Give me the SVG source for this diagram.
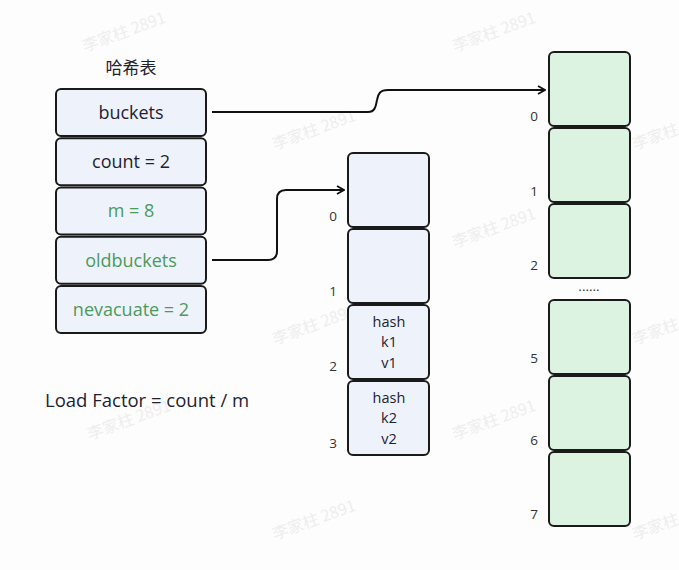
<svg xmlns="http://www.w3.org/2000/svg" width="679" height="570" viewBox="0 0 679 570">
<defs>
<style>
.wm{font-family:"Noto Sans CJK SC","Noto Sans",sans-serif;font-size:16px;fill:#eeeeee;}
.field{fill:#eef2fb;stroke:#1a1a1a;stroke-width:2;}
.old{fill:#eef2fb;stroke:#1a1a1a;stroke-width:2;}
.new{fill:#dcf3e2;stroke:#1a1a1a;stroke-width:2;}
.t{font-family:"Open Sans","Noto Sans",sans-serif;font-size:18px;fill:#1f2330;text-anchor:middle;}
.g{fill:#4c9a5c;}
.s{font-family:"Open Sans","Noto Sans",sans-serif;font-size:14.5px;fill:#1f2330;text-anchor:middle;}
.idx{font-family:"Open Sans","Noto Sans",sans-serif;font-size:13.5px;fill:#333;text-anchor:middle;}
.conn{fill:none;stroke:#111;stroke-width:2;}
</style>
<marker id="arr" viewBox="0 0 10 10" refX="9" refY="5" markerWidth="10" markerHeight="10" markerUnits="userSpaceOnUse" orient="auto">
<path d="M2,1 L9,5 L2,9" fill="none" stroke="#111" stroke-width="1.8"/>
</marker>
</defs>
<rect width="679" height="570" fill="#fdfdfd"/>
<g id="watermarks">
<text class="wm" transform="translate(85,52) rotate(-20)">李家柱 2891</text>
<text class="wm" transform="translate(455,52) rotate(-20)">李家柱 2891</text>
<text class="wm" transform="translate(275,150) rotate(-20)">李家柱 2891</text>
<text class="wm" transform="translate(635,150) rotate(-20)">李家柱 2891</text>
<text class="wm" transform="translate(90,248) rotate(-20)">李家柱 2891</text>
<text class="wm" transform="translate(455,248) rotate(-20)">李家柱 2891</text>
<text class="wm" transform="translate(275,345) rotate(-20)">李家柱 2891</text>
<text class="wm" transform="translate(635,345) rotate(-20)">李家柱 2891</text>
<text class="wm" transform="translate(90,440) rotate(-20)">李家柱 2891</text>
<text class="wm" transform="translate(455,440) rotate(-20)">李家柱 2891</text>
<text class="wm" transform="translate(275,540) rotate(-20)">李家柱 2891</text>
<text class="wm" transform="translate(635,540) rotate(-20)">李家柱 2891</text>
</g>
<g id="title"><text x="131" y="74" style="font-family:'Noto Sans CJK SC',sans-serif;font-size:17px;fill:#1f2330;text-anchor:middle">哈希表</text></g>
<g id="hmap">
<g id="f-buckets"><rect class="field" x="56" y="89" width="150" height="47" rx="5"/><text class="t" x="131" y="119">buckets</text></g>
<g id="f-count"><rect class="field" x="56" y="138.25" width="150" height="47" rx="5"/><text class="t" x="131" y="168">count = 2</text></g>
<g id="f-m"><rect class="field" x="56" y="187.5" width="150" height="47" rx="5"/><text class="t g" x="131" y="217">m = 8</text></g>
<g id="f-oldbuckets"><rect class="field" x="56" y="236.75" width="150" height="47" rx="5"/><text class="t g" x="131" y="267">oldbuckets</text></g>
<g id="f-nevacuate"><rect class="field" x="56" y="286" width="150" height="47" rx="5"/><text class="t g" x="131" y="316">nevacuate = 2</text></g>
</g>
<g id="loadfactor"><text x="45" y="407" style="font-family:'Open Sans','Noto Sans',sans-serif;font-size:18.5px;fill:#1f2330">Load Factor = count / m</text></g>
<g id="oldarray">
<g id="old0"><rect class="old" x="348" y="153" width="81" height="74" rx="5"/><text class="idx" x="333" y="221">0</text></g>
<g id="old1"><rect class="old" x="348" y="229" width="81" height="74" rx="5"/><text class="idx" x="333" y="296">1</text></g>
<g id="old2"><rect class="old" x="348" y="305" width="81" height="74" rx="5"/><text class="idx" x="333" y="371">2</text>
<text class="s" x="389" y="327">hash</text><text class="s" x="389" y="347">k1</text><text class="s" x="389" y="368">v1</text></g>
<g id="old3"><rect class="old" x="348" y="381" width="81" height="74" rx="5"/><text class="idx" x="333" y="448">3</text>
<text class="s" x="389" y="403">hash</text><text class="s" x="389" y="423">k2</text><text class="s" x="389" y="444">v2</text></g>
</g>
<g id="newarray">
<g id="new0"><rect class="new" x="549" y="52" width="81" height="74" rx="5"/><text class="idx" x="534" y="121">0</text></g>
<g id="new1"><rect class="new" x="549" y="128" width="81" height="74" rx="5"/><text class="idx" x="534" y="196">1</text></g>
<g id="new2"><rect class="new" x="549" y="204" width="81" height="74" rx="5"/><text class="idx" x="534" y="270">2</text></g>
<g id="dots"><text class="idx" x="589" y="291">......</text></g>
<g id="new5"><rect class="new" x="549" y="300" width="81" height="74" rx="5"/><text class="idx" x="534" y="363">5</text></g>
<g id="new6"><rect class="new" x="549" y="376" width="81" height="74" rx="5"/><text class="idx" x="534" y="445">6</text></g>
<g id="new7"><rect class="new" x="549" y="452" width="81" height="74" rx="5"/><text class="idx" x="534" y="519">7</text></g>
</g>
<g id="connectors">
<path class="conn" d="M212,112 L368,112 C376,112 376,104 377,100 C378,94 380,90 388,90 L545,90" marker-end="url(#arr)"/>
<path class="conn" d="M212,260 L268,260 Q277,260 277,251 L277,199 Q277,190 286,190 L344,190" marker-end="url(#arr)"/>
</g>
</svg>
